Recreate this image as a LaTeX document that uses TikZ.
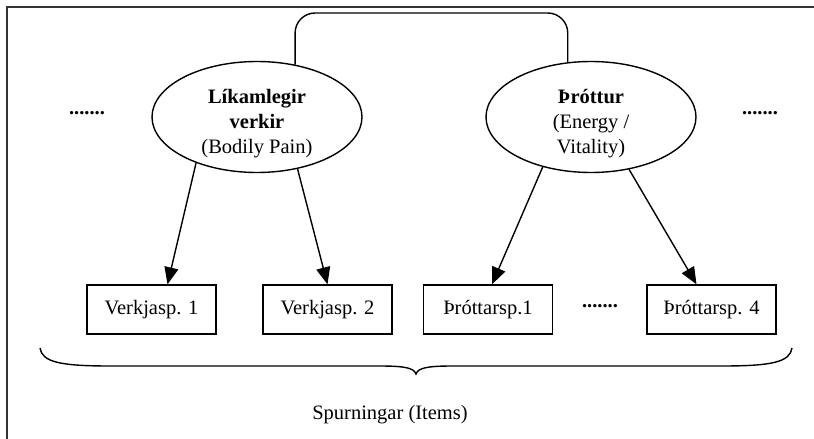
\documentclass[tikz,border=0pt]{standalone}
\usepackage{fontspec}
\setmainfont{Liberation Serif}
\usetikzlibrary{shapes.geometric,arrows.meta}
\begin{document}
\begin{tikzpicture}[x=1pt,y=-1pt,font=\fontsize{20.5}{25}\selectfont,
  factor/.style={ellipse,draw,line width=1.4pt,minimum width=210pt,minimum height=111pt,inner sep=0pt},
  label/.style={align=center,inner sep=0pt},
  item/.style={rectangle,draw,line width=1.4pt,minimum width=129pt,minimum height=49pt,inner sep=0pt},
  link/.style={line width=1.4pt,-{Triangle[length=17pt,width=14pt]}}]
\useasboundingbox (0,0) rectangle (814,439);
\draw[line width=1.5pt,black!80] (7,439) -- (7,7) -- (814,7);
\node[factor] (pain) at (257,117) {};
\node[factor] (vital) at (591,117) {};
\node[label] (painlabel) at (257,124) {\textbf{Líkamlegir}\\\textbf{verkir}\\(Bodily Pain)};
\node[label] (vitallabel) at (591,124) {\textbf{Þróttur}\\(Energy /\\Vitality)};
\node (ldots) at (87,113) {\textbf{.......}};
\node (rdots) at (760,113) {\textbf{.......}};
\coordinate (top) at (430,13);
\draw[line width=1.4pt,rounded corners=20pt] (pain.54) |- (top) -| (vital.113);
\node[item] (v1) at (151.5,309.5) {Verkjasp. 1};
\node[item] (v2) at (327.5,309.5) {Verkjasp. 2};
\node[item] (t1) at (488,309.5) {Þróttarsp.1};
\node[item] (t4) at (711.5,309.5) {Þróttarsp. 4};
\node (mdots) at (600,306) {\textbf{.......}};
\draw[link] (pain.217) -- ([xshift=16pt]v1.north);
\draw[link] (pain.-52) -- (v2.north);
\draw[link] (vital.226) -- ([xshift=4pt]t1.north);
\draw[link] (vital.-54) -- ([xshift=-15pt]t4.north);
% brace under the items
\draw[line width=1.4pt] (40,348) .. controls (42,362) and (60,366) .. (110,366) -- (380,366)
  .. controls (405,366) and (414,368) .. (416,374) .. controls (418,368) and (427,366) .. (452,366)
  -- (722,366) .. controls (772,366) and (790,362) .. (792,348);
\node (items) at (390,415) {Spurningar (Items)};
\end{tikzpicture}
\end{document}
